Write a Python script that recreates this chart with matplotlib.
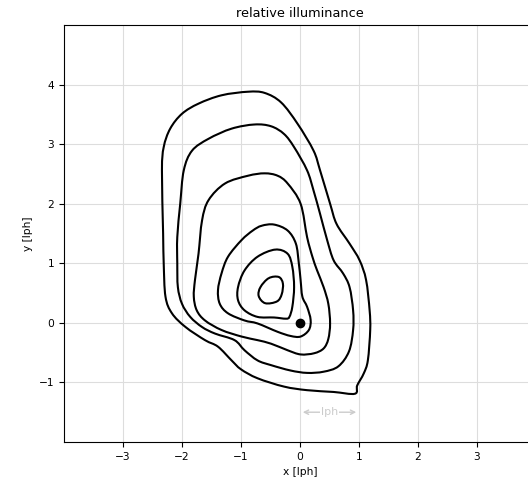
import matplotlib
matplotlib.use('Agg')
import matplotlib.pyplot as plt
from matplotlib.path import Path
from matplotlib.patches import PathPatch

# contour lines, outermost first (x, y in lph)
c1_x = [-0.88, -0.60, -0.32, -0.04, 0.23, 0.34, 0.51, 0.62, 0.84, 1.01, 1.12, 1.18, 1.19, 1.15, 1.08, 0.97, 0.93,
        0.57, 0.12, -0.27, -0.72, -1.00, -1.16, -1.39, -1.61, -1.94, -2.17, -2.28, -2.31, -2.32, -2.34, -2.31, -2.20,
        -2.00, -1.72, -1.33]
c1_y = [3.88, 3.86, 3.70, 3.34, 2.89, 2.56, 2.00, 1.66, 1.33, 1.05, 0.72, 0.21, -0.12, -0.63, -0.85, -1.05, -1.19,
        -1.16, -1.13, -1.07, -0.93, -0.78, -0.63, -0.40, -0.29, -0.07, 0.16, 0.44, 1.00, 1.50, 2.56, 2.95, 3.26,
        3.51, 3.68, 3.82]

c2_x = [-0.77, -0.49, -0.27, -0.10, 0.12, 0.23, 0.34, 0.46, 0.57, 0.73, 0.84, 0.90, 0.90, 0.83, 0.65, 0.40, 0.12,
        -0.16, -0.49, -0.72, -0.94, -1.11, -1.44, -1.66, -1.86, -2.00, -2.07, -2.08, -2.08, -2.03, -1.97, -1.83, -1.55,
        -1.16]
c2_y = [3.33, 3.30, 3.17, 2.95, 2.56, 2.22, 1.83, 1.39, 1.05, 0.83, 0.60, 0.21, -0.12, -0.48, -0.73, -0.82, -0.84,
        -0.80, -0.71, -0.63, -0.46, -0.29, -0.18, -0.07, 0.10, 0.32, 0.60, 1.00, 1.44, 2.00, 2.56, 2.89, 3.09, 3.26]

c3_x = [-0.88, -0.60, -0.38, -0.21, 0.01, 0.12, 0.21, 0.29, 0.40, 0.48, 0.51, 0.48, 0.40, 0.24, 0.01, -0.21, -0.49,
        -0.72, -0.99, -1.33, -1.61, -1.75, -1.80, -1.78, -1.72, -1.66, -1.55, -1.27]
c3_y = [2.47, 2.51, 2.47, 2.34, 2.00, 1.44, 1.11, 0.88, 0.60, 0.32, -0.01, -0.27, -0.43, -0.51, -0.53, -0.46, -0.35,
        -0.29, -0.23, -0.12, 0.04, 0.21, 0.44, 0.72, 1.16, 1.72, 2.06, 2.34]

c4_x = [-0.65, -0.44, -0.21, -0.07, -0.02, 0.01, 0.04, 0.12, 0.18, 0.15, 0.01, -0.16, -0.38, -0.72, -0.94, -1.22,
        -1.36, -1.39, -1.33, -1.22, -0.99, -0.80]
c4_y = [1.63, 1.65, 1.55, 1.33, 1.00, 0.72, 0.44, 0.27, 0.05, -0.12, -0.23, -0.22, -0.15, -0.01, 0.04, 0.16,
        0.32, 0.55, 0.83, 1.11, 1.39, 1.55]

c5_x = [-0.42, -0.21, -0.13, -0.10, -0.13, -0.18, -0.24, -0.44, -0.72, -0.94, -1.05, -1.05, -0.94, -0.72]
c5_y = [1.23, 1.16, 0.94, 0.60, 0.27, 0.10, 0.07, 0.09, 0.10, 0.21, 0.38, 0.60, 0.88, 1.11]

c6_x = [-0.53, -0.36, -0.29, -0.31, -0.39, -0.59, -0.70, -0.67]
c6_y = [0.75, 0.77, 0.66, 0.48, 0.36, 0.33, 0.45, 0.60]

contours = [(c1_x, c1_y), (c2_x, c2_y), (c3_x, c3_y), (c4_x, c4_y), (c5_x, c5_y), (c6_x, c6_y)]

src_x = [0.0]
src_y = [0.0]

x_ticks = [-3, -2, -1, 0, 1, 2, 3]
y_ticks = [-1, 0, 1, 2, 3, 4]


def closed_curve(xs, ys):
    # smooth closed path through the read points (catmull-rom as cubic bezier)
    n = len(xs)
    pts = list(zip(xs, ys))
    verts = [pts[0]]
    codes = [Path.MOVETO]
    for i in range(n):
        p0 = pts[i - 1]
        p1 = pts[i]
        p2 = pts[(i + 1) % n]
        p3 = pts[(i + 2) % n]
        c1 = (p1[0] + (p2[0] - p0[0]) / 6, p1[1] + (p2[1] - p0[1]) / 6)
        c2 = (p2[0] - (p3[0] - p1[0]) / 6, p2[1] - (p3[1] - p1[1]) / 6)
        verts += [c1, c2, p2]
        codes += [Path.CURVE4] * 3
    return Path(verts, codes)


plt.rcParams['font.size'] = 7.7

fig = plt.figure(figsize=(5.28, 4.78), dpi=100)
ax = fig.add_axes([64 / 528, 36 / 478, 472 / 528, 417 / 478])

for cx, cy in contours:
    ax.add_patch(PathPatch(closed_curve(cx, cy), facecolor='none', edgecolor='black', lw=1.5))

ax.plot(src_x, src_y, 'o', color='black', ms=6)

# scale bar
ax.annotate('', xy=(0, -1.5), xytext=(1, -1.5),
            arrowprops=dict(arrowstyle='<->', color='#cccccc', lw=1))
ax.text(0.5, -1.5, 'lph', color='#cccccc', ha='center', va='center', fontsize=8,
        bbox=dict(facecolor='white', edgecolor='none', pad=1))

ax.set_xlim(-4, 4)
ax.set_ylim(-2, 5)
ax.set_xticks(x_ticks)
ax.set_yticks(y_ticks)
ax.grid(True, color='#dddddd', lw=0.8)
ax.set_axisbelow(True)
ax.set_xlabel('x [lph]')
ax.set_ylabel('y [lph]')
ax.set_title('relative illuminance')

fig.savefig('out.png', dpi=100)
